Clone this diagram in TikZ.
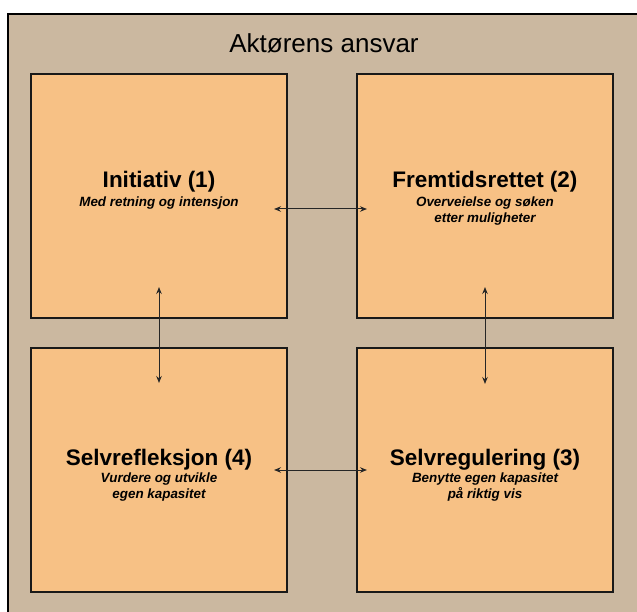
\documentclass[tikz,border=0pt]{standalone}
\usepackage{fontspec}
\setmainfont{Liberation Sans}
\usetikzlibrary{arrows.meta,shadows}
\definecolor{framecol}{HTML}{CBB8A0}
\definecolor{boxcol}{HTML}{F7C185}
\begin{document}
\begin{tikzpicture}[x=1pt,y=-1pt,
  box/.style={draw=black!90, line width=1.3pt, fill=boxcol, minimum width=256pt, minimum height=244pt, inner sep=0pt, outer sep=0pt,
    drop shadow={shadow xshift=1pt,shadow yshift=-1pt,opacity=0.35,fill=black}},
  boxtitle/.style={anchor=base, font=\fontsize{22.5}{27}\selectfont\bfseries, inner sep=0pt},
  boxsub/.style={anchor=base, font=\fontsize{13.4}{16}\selectfont\bfseries\itshape, inner sep=0pt},
  link/.style={{Stealth[length=7pt,width=5.5pt]}-{Stealth[length=7pt,width=5.5pt]}, line width=1pt, draw=black!85}
]
\useasboundingbox (0,0) rectangle (637,612);
\node[draw=black, line width=1.2pt, fill=framecol, minimum width=660pt, minimum height=640pt, inner sep=0pt, outer sep=0pt, anchor=north west] (frame) at (8,14) {};
\node[anchor=base, font=\fontsize{26}{30}\selectfont, inner sep=0pt] (maintitle) at (324,53) {Aktørens ansvar};

\node[box] (tl) at (159,196) {};
\node[box] (tr) at (485,196) {};
\node[box] (bl) at (159,470) {};
\node[box] (br) at (485,470) {};

\node[boxtitle] (tlt) at (159,188) {Initiativ (1)};
\node[boxsub] (tls1) at (159,207) {Med retning og intensjon};

\node[boxtitle] (trt) at (485,188) {Fremtidsrettet (2)};
\node[boxsub] (trs1) at (485,207) {Overveielse og søken};
\node[boxsub] (trs2) at (485,223) {etter muligheter};

\node[boxtitle] (blt) at (159,465) {Selvrefleksjon (4)};
\node[boxsub] (bls1) at (159,482) {Vurdere og utvikle};
\node[boxsub] (bls2) at (159,498) {egen kapasitet};

\node[boxtitle] (brt) at (485,465) {Selvregulering (3)};
\node[boxsub] (brs1) at (485,482) {Benytte egen kapasitet};
\node[boxsub] (brs2) at (485,498) {på riktig vis};

\coordinate (h1a) at (274,209);
\coordinate (h1b) at (367,209);
\coordinate (h2a) at (274,470);
\coordinate (h2b) at (367,470);
\coordinate (v1a) at (159,287);
\coordinate (v1b) at (159,383);
\coordinate (v2a) at (485,287);
\coordinate (v2b) at (485,384);

\draw[link] (h1a) -- (h1b);
\draw[link] (h2a) -- (h2b);
\draw[link] (v1a) -- (v1b);
\draw[link] (v2a) -- (v2b);
\end{tikzpicture}
\end{document}
